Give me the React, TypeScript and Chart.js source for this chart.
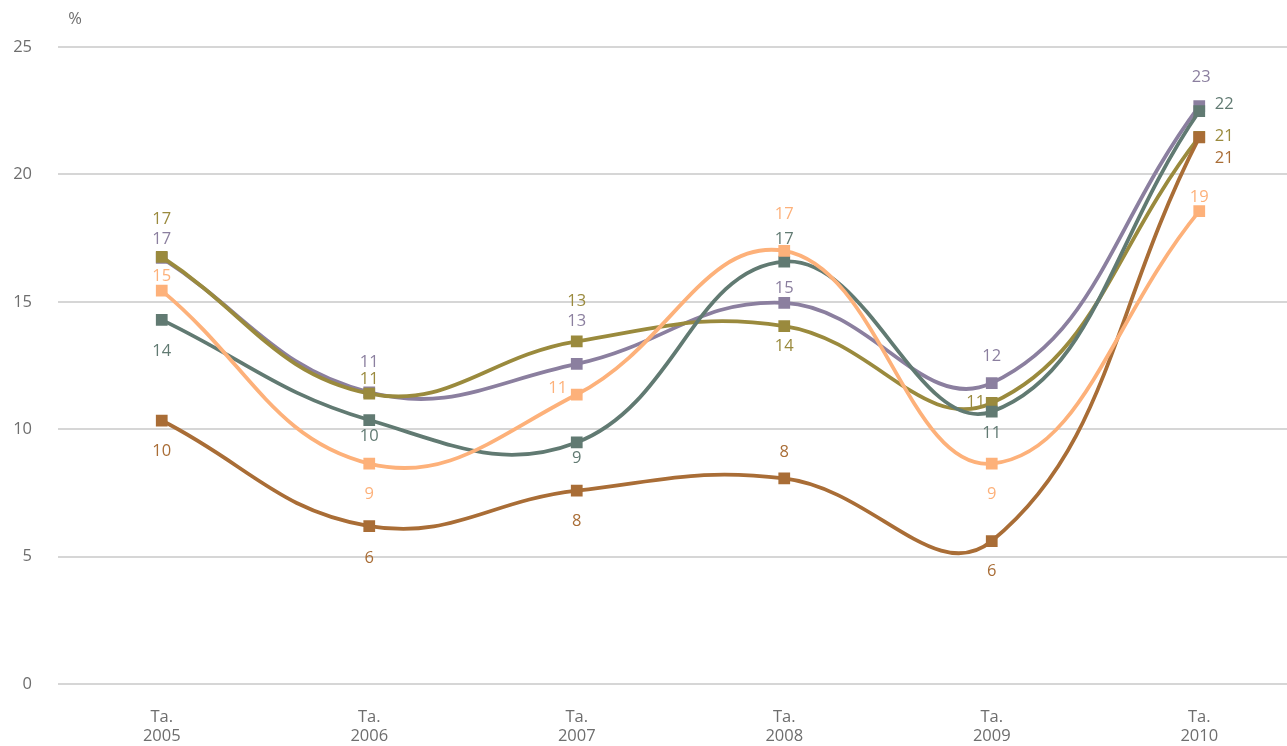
import React, { useEffect, useRef } from "react";
import { Chart, registerables } from "chart.js";

Chart.register(...registerables);

// ---- data ----
const years = ["2005", "2006", "2007", "2008", "2009", "2010"];
const xTickPrefix = "Ta.";
const yTickValues = [0, 5, 10, 15, 20, 25];
const unitLabel = "%";

const purpleName = "Sarja 1";
const oliveName = "Sarja 2";
const tealName = "Sarja 3";
const peachName = "Sarja 4";
const brownName = "Sarja 5";

const purpleValues = [16.72, 11.45, 12.56, 14.96, 11.81, 22.68];
const oliveValues = [16.76, 11.4, 13.45, 14.05, 11.03, 21.47];
const tealValues = [14.29, 10.36, 9.48, 16.58, 10.69, 22.48];
const peachValues = [15.44, 8.65, 11.36, 17.0, 8.65, 18.56];
const brownValues = [10.34, 6.2, 7.59, 8.07, 5.61, 21.45];

// ---- styles ----
const FONT = "'Open Sans', 'Noto Sans', sans-serif";
const TEXT_GRAY = "#6e6e6e";
const GRID_GRAY = "#d6d6d6";

const purpleColor = "#8b7f9f";
const oliveColor = "#9a8a3d";
const tealColor = "#617a72";
const peachColor = "#fdb17a";
const brownColor = "#a96d36";

// label offsets (dx, dy) relative to each point, style only
const purpleLabelOffsets = [[0, -19], [0, -30], [0, -43], [0, -15], [0, -27], [2, -29]];
const oliveLabelOffsets = [[0, -38], [0, -14], [0, -40], [0, 20], [-16, -1], [25, -1]];
const tealLabelOffsets = [[0, 31], [0, 16], [0, 16], [0, -22], [0, 22], [25, -7]];
const peachLabelOffsets = [[0, -14], [0, 31], [-19, -6], [0, -37], [0, 31], [0, -14]];
const brownLabelOffsets = [[0, 31], [0, 32], [0, 31], [0, -26], [0, 30], [25, 21]];

const dataLabelPlugin = {
  id: "dataLabels",
  beforeDatasetsDraw(chart: any) {
    const ctx = chart.ctx;
    ctx.save();
    ctx.font = `16.5px ${FONT}`;
    ctx.textAlign = "center";
    ctx.textBaseline = "middle";
    chart.data.datasets.forEach((ds: any, i: number) => {
      const meta = chart.getDatasetMeta(i);
      ctx.fillStyle = ds.borderColor;
      meta.data.forEach((pt: any, j: number) => {
        const v = ds.data[j];
        const off = ds.labelOffsets[j];
        ctx.fillText(String(Math.round(v)), pt.x + off[0], pt.y + off[1]);
      });
    });
    ctx.restore();
  },
  afterDraw(chart: any) {
    const ctx = chart.ctx;
    ctx.save();
    ctx.font = `16.5px ${FONT}`;
    ctx.fillStyle = TEXT_GRAY;
    ctx.textAlign = "center";
    ctx.textBaseline = "middle";
    ctx.fillText(unitLabel, chart.chartArea.left + 17, 19);
    ctx.restore();
  },
};

function makeDataset(label: string, data: number[], color: string, offsets: number[][]) {
  return {
    label,
    data,
    borderColor: color,
    backgroundColor: color,
    pointBackgroundColor: color,
    pointBorderColor: color,
    borderWidth: 3.8,
    pointStyle: "rect",
    pointRadius: 8.3,
    pointBorderWidth: 0,
    tension: 0.42,
    fill: false,
    labelOffsets: offsets,
  };
}

export default function App() {
  const canvasRef = useRef<HTMLCanvasElement | null>(null);

  useEffect(() => {
    document.body.style.margin = "0";
    const canvas = canvasRef.current;
    if (!canvas) return;
    const chart = new Chart(canvas, {
      type: "line",
      data: {
        labels: years.map((y) => [xTickPrefix, y]),
        datasets: [
          makeDataset(peachName, peachValues, peachColor, peachLabelOffsets),
          makeDataset(brownName, brownValues, brownColor, brownLabelOffsets),
          makeDataset(tealName, tealValues, tealColor, tealLabelOffsets),
          makeDataset(oliveName, oliveValues, oliveColor, oliveLabelOffsets),
          makeDataset(purpleName, purpleValues, purpleColor, purpleLabelOffsets),
        ] as any,
      },
      options: {
        animation: false,
        responsive: false,
        maintainAspectRatio: false,
        devicePixelRatio: 1,
        layout: { autoPadding: false, padding: { top: 47, left: 0, right: 0, bottom: 0 } },
        plugins: {
          legend: { display: false },
          tooltip: { enabled: false },
          title: { display: false },
        },
        scales: {
          x: {
            type: "category",
            offset: true,
            grid: { display: false, drawTicks: false },
            border: { display: false },
            ticks: {
              color: TEXT_GRAY,
              font: { family: FONT, size: 16.5, lineHeight: 1.15 },
              padding: 24,
              maxRotation: 0,
              autoSkip: false,
            },
            afterFit: (scale: any) => {
              scale.height = 62;
              scale.paddingLeft = 0;
              scale.paddingRight = 0;
            },
          },
          y: {
            min: 0,
            max: 25,
            afterBuildTicks: (scale: any) => {
              scale.ticks = yTickValues.map((v) => ({ value: v }));
            },
            grid: { color: GRID_GRAY, lineWidth: 2, drawTicks: false },
            border: { display: false },
            ticks: {
              color: TEXT_GRAY,
              font: { family: FONT, size: 16.5 },
              padding: 26,
            },
            afterFit: (scale: any) => {
              scale.width = 58;
              scale.paddingTop = 0;
              scale.paddingBottom = 0;
            },
          },
        },
      } as any,
      plugins: [dataLabelPlugin],
    });
    return () => chart.destroy();
  }, []);

  return (
    <div
      style={{
        position: "fixed",
        left: 0,
        top: 0,
        width: 1287,
        height: 746,
        overflow: "hidden",
        background: "#fff",
      }}
    >
      <canvas ref={canvasRef} width={1303} height={746} style={{ display: "block" }} />
    </div>
  );
}
